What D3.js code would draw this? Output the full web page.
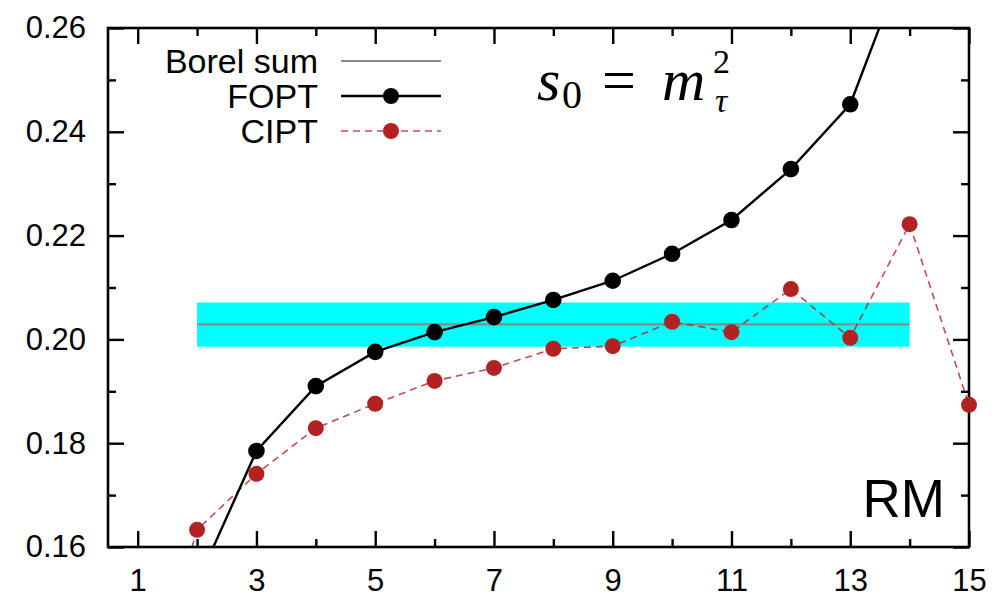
<!DOCTYPE html>
<html>
<head>
<meta charset="utf-8">
<script src="https://cdn.jsdelivr.net/npm/d3@7"></script>
<style>
  html, body { margin: 0; padding: 0; background: #fff; }
  svg { display: block; }
  text { font-family: "Liberation Sans", Arial, sans-serif; fill: #000; }
</style>
</head>
<body>
<svg id="chart" width="999" height="599"></svg>
<script>
// Perturbative order N
const orders = [1, 2, 3, 4, 5, 6, 7, 8, 9, 10, 11, 12, 13, 14, 15];
// Fixed-order perturbation theory (RM scheme)
const foptOrders = [2, 3, 4, 5, 6, 7, 8, 9, 10, 11, 12, 13, 14];
const foptValues = [0.1530, 0.1785, 0.1910, 0.1976, 0.2014, 0.2043, 0.2076, 0.2113, 0.2165, 0.2230, 0.2328, 0.2453, 0.2754];
// Contour-improved perturbation theory (RM scheme)
const ciptOrders = [1, 2, 3, 4, 5, 6, 7, 8, 9, 10, 11, 12, 13, 14, 15];
const ciptValues = [0.1245, 0.1633, 0.1741, 0.1829, 0.1876, 0.1920, 0.1945, 0.1982, 0.1987, 0.2034, 0.2014, 0.2097, 0.2003, 0.2222, 0.1874];
// Borel sum with its uncertainty band
const borelCentral = 0.2029;
const borelBand = [0.1986, 0.2071];
const borelRange = [2, 14];
// Axis ticks
const xMajorTicks = [1, 3, 5, 7, 9, 11, 13, 15];
const xMinorTicks = [2, 4, 6, 8, 10, 12, 14];
const yMajorTicks = [0.16, 0.18, 0.20, 0.22, 0.24, 0.26];
const yMinorTicks = [0.17, 0.19, 0.21, 0.23, 0.25];

const svg = d3.select("#chart");
const L = 108, R = 969, T = 28, B = 547;
const x = d3.scaleLinear().domain([0.5, 15]).range([L, R]);
const y = d3.scaleLinear().domain([0.16, 0.26]).range([B, T]);

const red = "#b22222";

svg.append("defs").append("clipPath").attr("id", "plotClip")
  .append("rect").attr("x", L).attr("y", T).attr("width", R - L).attr("height", B - T);

const plot = svg.append("g").attr("clip-path", "url(#plotClip)");

// Borel band and central value
plot.append("rect")
  .attr("x", x(borelRange[0])).attr("width", x(borelRange[1]) - x(borelRange[0]))
  .attr("y", y(borelBand[1])).attr("height", y(borelBand[0]) - y(borelBand[1]))
  .attr("fill", "#00ffff");
plot.append("line")
  .attr("x1", x(borelRange[0])).attr("x2", x(borelRange[1]))
  .attr("y1", y(borelCentral)).attr("y2", y(borelCentral))
  .attr("stroke", "#8a8a8a").attr("stroke-width", 2.2);

const fopt = foptOrders.map((n, i) => ({ n, v: foptValues[i] }));
const cipt = ciptOrders.map((n, i) => ({ n, v: ciptValues[i] }));
const line = d3.line().x(d => x(d.n)).y(d => y(d.v));

plot.append("path").datum(cipt).attr("d", line)
  .attr("fill", "none").attr("stroke", red).attr("stroke-opacity", 0.8)
  .attr("stroke-width", 1.6).attr("stroke-dasharray", "7,5");
plot.append("path").datum(fopt).attr("d", line)
  .attr("fill", "none").attr("stroke", "#000").attr("stroke-width", 2.4);

// Frame with inward ticks on all four sides
const axisStyle = g => {
  g.select(".domain").remove();
  g.selectAll(".tick line").attr("stroke", "#000").attr("stroke-width", 2.4);
  g.selectAll(".tick text").style("font-size", "31px")
    .style("font-family", '"Liberation Sans", Arial, sans-serif');
};
const fmtY = d3.format(".2f");

svg.append("g").attr("transform", `translate(0,${B})`)
  .call(d3.axisBottom(x).tickValues(xMajorTicks).tickFormat(d3.format("d")).tickSize(-16).tickPadding(22))
  .call(axisStyle);
svg.append("g").attr("transform", `translate(0,${B})`)
  .call(d3.axisBottom(x).tickValues(xMinorTicks).tickFormat("").tickSize(-8))
  .call(axisStyle);
svg.append("g").attr("transform", `translate(0,${T})`)
  .call(d3.axisTop(x).tickValues(xMajorTicks).tickFormat("").tickSize(-16))
  .call(axisStyle);
svg.append("g").attr("transform", `translate(0,${T})`)
  .call(d3.axisTop(x).tickValues(xMinorTicks).tickFormat("").tickSize(-8))
  .call(axisStyle);
svg.append("g").attr("transform", `translate(${L},0)`)
  .call(d3.axisLeft(y).tickValues(yMajorTicks).tickFormat(fmtY).tickSize(-16).tickPadding(22))
  .call(axisStyle);
svg.append("g").attr("transform", `translate(${L},0)`)
  .call(d3.axisLeft(y).tickValues(yMinorTicks).tickFormat("").tickSize(-8))
  .call(axisStyle);
svg.append("g").attr("transform", `translate(${R},0)`)
  .call(d3.axisRight(y).tickValues(yMajorTicks).tickFormat("").tickSize(-16))
  .call(axisStyle);
svg.append("g").attr("transform", `translate(${R},0)`)
  .call(d3.axisRight(y).tickValues(yMinorTicks).tickFormat("").tickSize(-8))
  .call(axisStyle);

svg.append("rect").attr("x", L).attr("y", T).attr("width", R - L).attr("height", B - T)
  .attr("fill", "none").attr("stroke", "#000").attr("stroke-width", 2.6);

// Markers for points inside the vertical range
const inRange = d => d.v >= 0.16 && d.v <= 0.26;
svg.append("g").selectAll("circle").data(cipt.filter(inRange)).join("circle")
  .attr("cx", d => x(d.n)).attr("cy", d => y(d.v)).attr("r", 8).attr("fill", red);
svg.append("g").selectAll("circle").data(fopt.filter(inRange)).join("circle")
  .attr("cx", d => x(d.n)).attr("cy", d => y(d.v)).attr("r", 8.3).attr("fill", "#000");

// Legend
const legend = svg.append("g");
const legRows = [
  { label: "Borel sum", y: 61, stroke: "#8a8a8a", w: 2.2, dash: null, marker: null },
  { label: "FOPT", y: 96, stroke: "#000", w: 2.4, dash: null, marker: "#000" },
  { label: "CIPT", y: 131, stroke: red, w: 1.6, dash: "7,5", marker: red }
];
legRows.forEach(r => {
  legend.append("text").attr("x", 318).attr("y", r.y + 12)
    .attr("text-anchor", "end").style("font-size", "34px").text(r.label);
  legend.append("line").attr("x1", 341).attr("x2", 441).attr("y1", r.y).attr("y2", r.y)
    .attr("stroke", r.stroke).attr("stroke-width", r.w)
    .attr("stroke-dasharray", r.dash).attr("stroke-opacity", r.dash ? 0.8 : 1);
  if (r.marker) legend.append("circle").attr("cx", 391).attr("cy", r.y).attr("r", 8).attr("fill", r.marker);
});

// Scheme label
svg.append("text").attr("x", 945).attr("y", 517).attr("text-anchor", "end")
  .style("font-size", "53px").text("RM");

// s_0 = m_tau^2, set as one text with positioned pieces
const mathFont = '"Liberation Serif", "DejaVu Serif", "Times New Roman", serif';
const mth = svg.append("text").style("font-family", mathFont);
const piece = (t, px, py, size, italic) => mth.append("tspan")
  .attr("x", px).attr("y", py).style("font-family", mathFont)
  .style("font-size", size + "px").style("font-style", italic ? "italic" : "normal").text(t);
piece("s", 537, 100, 60, true);
piece("0", 562, 108, 40, false);
piece("=", 602, 100, 60, false);
piece("m", 662, 100, 60, true);
piece("2", 713, 73, 34, false);
piece("\u03c4", 715, 112, 34, true);
</script>
</body>
</html>
